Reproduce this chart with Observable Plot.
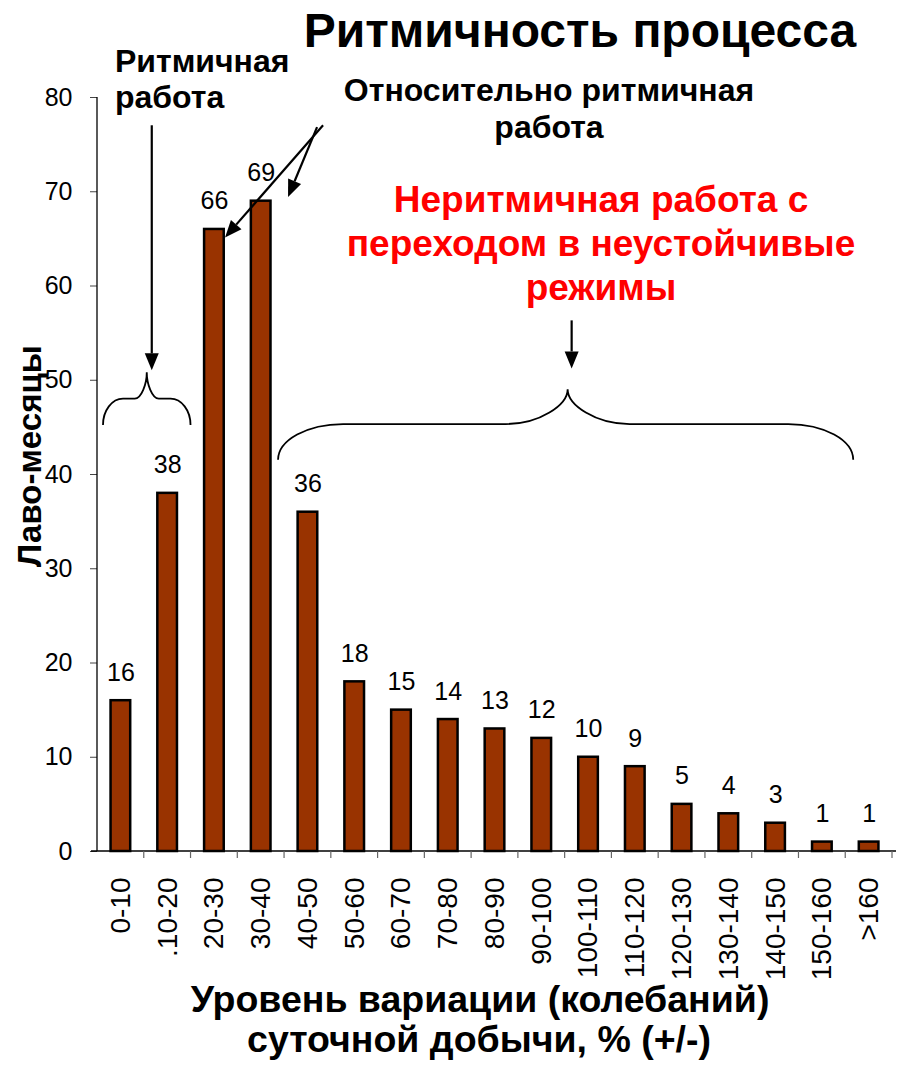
<!DOCTYPE html>
<html><head><meta charset="utf-8">
<script src="https://cdn.jsdelivr.net/npm/d3@7"></script>
<script src="https://cdn.jsdelivr.net/npm/@observablehq/plot@0.6"></script>
<style>html,body{margin:0;padding:0;background:#fff} svg{display:block}</style>
</head><body><div id="chart"></div>
<script>
const categories = ["0-10", ".10-20", "20-30", "30-40", "40-50", "50-60", "60-70", "70-80", "80-90", "90-100", "100-110", "110-120", "120-130", "130-140", "140-150", "150-160", ">160"];
const values = [16, 38, 66, 69, 36, 18, 15, 14, 13, 12, 10, 9, 5, 4, 3, 1, 1];
const yTicks = [0, 10, 20, 30, 40, 50, 60, 70, 80];
const titleText = "Ритмичность процесса";
const noteRhythm = ["Ритмичная", "работа"];
const noteRelative = ["Относительно ритмичная", "работа"];
const noteIrregular = ["Неритмичная работа с", "переходом в неустойчивые", "режимы"];
const yLabel = "Лаво-месяцы";
const xLabel = ["Уровень вариации (колебаний)", "суточной добычи, % (+/-)"];

const data = categories.map((c, i) => ({cat: c, value: values[i]}));
const FONT = "'Liberation Sans', Arial, Helvetica, sans-serif";
const PAD = 0.58;

function overlay(index, scales, vals, dims) {
  const x = scales.x, y = scales.y;
  const step = x(categories[1]) - x(categories[0]);
  const bw = step * (1 - PAD);
  const bs = i => x(categories[0]) - (step - bw) / 2 + i * step;
  const g = d3.create("svg:g").attr("font-family", FONT);
  const y0 = y(0);
  // axes lines
  g.append("line").attr("x1", bs(0)).attr("x2", bs(0)).attr("y1", y(80)).attr("y2", y0).attr("stroke", "#000").attr("stroke-width", 1.3);
  g.append("line").attr("x1", bs(0) - 6).attr("x2", bs(categories.length) + 4).attr("y1", y0).attr("y2", y0).attr("stroke", "#000").attr("stroke-width", 1.3);
  for (let i = 1; i <= categories.length; i++) {
    g.append("line").attr("x1", bs(i)).attr("x2", bs(i)).attr("y1", y0).attr("y2", y0 + 7).attr("stroke", "#666").attr("stroke-width", 1.2);
  }
  // arrows
  function arrow(x1, y1, x2, y2) {
    const a = Math.atan2(y2 - y1, x2 - x1), L = 17, W = 7;
    const bx = x2 - L * Math.cos(a), by = y2 - L * Math.sin(a);
    g.append("line").attr("x1", x1).attr("y1", y1).attr("x2", bx).attr("y2", by).attr("stroke", "#000").attr("stroke-width", 2.2);
    const px = -Math.sin(a) * W, py = Math.cos(a) * W;
    g.append("path").attr("d", `M${x2},${y2}L${bx + px},${by + py}L${bx - px},${by - py}Z`).attr("fill", "#000");
  }
  function brace(x1, x2, xm, yEnd, yArm, yTip, rEnd, rTip) {
    const k = 0.55;
    const d = `M${x1},${yEnd}` +
      `C${x1},${yEnd - k * (yEnd - yArm)} ${x1 + rEnd - k * rEnd},${yArm} ${x1 + rEnd},${yArm}` +
      `L${xm - rTip},${yArm}` +
      `C${xm - rTip + k * rTip},${yArm} ${xm},${yArm - k * (yArm - yTip)} ${xm},${yTip}` +
      `C${xm},${yArm - k * (yArm - yTip)} ${xm + rTip - k * rTip},${yArm} ${xm + rTip},${yArm}` +
      `L${x2 - rEnd},${yArm}` +
      `C${x2 - rEnd + k * rEnd},${yArm} ${x2},${yEnd - k * (yEnd - yArm)} ${x2},${yEnd}`;
    g.append("path").attr("d", d).attr("fill", "none").attr("stroke", "#000").attr("stroke-width", 1.8);
  }
  brace(bs(0) + 6, bs(2), bs(1) + 3, y(45.2), y(48), y(50.8), 20, 12);
  arrow(bs(1) + 8, y(77), bs(1) + 8, y(51));
  brace(bs(4) - 6, bs(16) + 8, bs(10) + 3, y(41.5), y(45.3), y(49), 65, 62);
  arrow(bs(10) + 7, y(56.3), bs(10) + 7, y(51.2));
  arrow(bs(4) + 39, y(77), bs(2) + 34.5, y(65.1));
  arrow(bs(4) + 33, y(76.8), bs(4) + 4, y(69.4));

  // texts
  const t = (txt, px, py, size, opts = {}) => {
    const e = g.append("text").attr("x", px).attr("y", py).attr("font-size", size)
      .attr("font-weight", opts.weight || "bold").attr("fill", opts.fill || "#000")
      .attr("text-anchor", opts.anchor || "start").text(txt);
    if (opts.rotate) e.attr("transform", `rotate(${opts.rotate},${px},${py})`);
    return e;
  };
  t(titleText, 580, 47, 48, {anchor: "middle"});
  t(noteRhythm[0], 115, 72, 32);
  t(noteRhythm[1], 115, 108, 32);
  t(noteRelative[0], 549, 101, 32, {anchor: "middle"});
  t(noteRelative[1], 549, 138, 32, {anchor: "middle"});
  noteIrregular.forEach((s, i) => t(s, 601, 212 + i * 44, 37, {anchor: "middle", fill: "#ff0000"}));
  t(yLabel, 41, 456, 33, {anchor: "middle", rotate: -90});
  t(xLabel[0], 480, 1012, 37.5, {anchor: "middle"});
  t(xLabel[1], 479, 1052, 37.5, {anchor: "middle"});
  return g.node();
}

const chart = Plot.plot({
  width: 899, height: 1065,
  marginLeft: 97, marginRight: 7, marginTop: 97, marginBottom: 214,
  style: {fontFamily: FONT, background: "#fff", color: "#000", overflow: "visible"},
  x: {domain: categories, paddingInner: PAD, paddingOuter: PAD / 2, round: false, label: null},
  y: {domain: [0, 80], label: null},
  marks: [
    Plot.barY(data, {x: "cat", y: "value", fill: "#993300", stroke: "#000", strokeWidth: 2.5}),
    Plot.text(data, {x: "cat", y: "value", text: d => String(d.value), dy: -20, lineAnchor: "bottom", fontSize: 25, fill: "#000"}),
    Plot.axisY({ticks: yTicks, tickSize: 7, tickPadding: 18, fontSize: 25, stroke: "#444", label: null}),
    Plot.axisX({tickRotate: -90, tickSize: 0, tickPadding: 26, fontSize: 28, label: null}),
    overlay
  ]
});
document.getElementById("chart").appendChild(chart);
</script>
</body></html>
